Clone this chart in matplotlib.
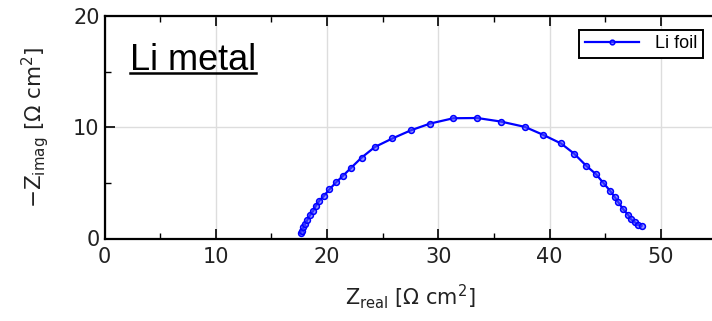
import matplotlib
matplotlib.use("Agg")
import matplotlib.pyplot as plt
from matplotlib.ticker import MultipleLocator, FuncFormatter
from matplotlib.lines import Line2D

z_real = [17.63, 17.72, 17.86, 18.01, 18.22, 18.46, 18.76, 18.97, 19.30, 19.72,
          20.20, 20.80, 21.40, 22.15, 23.11, 24.30, 25.86, 27.54, 29.25, 31.34,
          33.50, 35.62, 37.78, 39.43, 41.02, 42.18, 43.26, 44.16, 44.82, 45.42,
          45.87, 46.17, 46.61, 47.06, 47.28, 47.66, 47.96, 48.25]
z_imag = [0.47, 0.70, 1.00, 1.30, 1.66, 2.08, 2.49, 2.91, 3.39, 3.84,
          4.41, 5.04, 5.61, 6.35, 7.28, 8.23, 8.99, 9.73, 10.33, 10.81,
          10.83, 10.51, 10.03, 9.31, 8.54, 7.64, 6.56, 5.78, 5.00, 4.29,
          3.69, 3.25, 2.62, 2.11, 1.75, 1.45, 1.21, 1.15]
series_label = "Li foil"
panel_title = "Li metal"

W, H = 712, 321
fig = plt.figure(figsize=(W/100, H/100), dpi=100)
left = 104.5 / W
bottom = (H - 238.5) / H
height = (238.5 - 16) / H
width = 60 * 11.13 / W
ax = fig.add_axes([left, bottom, width, height])

ax.plot(z_real, z_imag, '-o', color='blue', lw=1.6, ms=4.2,
        mfc=(0.3, 0.3, 1.0, 0.6), mec='blue', mew=1.1, label=series_label)

ax.set_xlim(0, 60)
ax.set_ylim(0, 20)
ax.xaxis.set_major_locator(MultipleLocator(10))
ax.xaxis.set_minor_locator(MultipleLocator(5))
ax.yaxis.set_major_locator(MultipleLocator(10))
ax.yaxis.set_minor_locator(MultipleLocator(5))
ax.xaxis.set_major_formatter(FuncFormatter(lambda v, p: "" if v > 55 else f"{v:.0f}"))
ax.tick_params(which='both', direction='in', top=True, right=True, colors='black',
               labelsize=15, labelcolor='#222222')
ax.tick_params(which='major', length=7, width=1.2)
ax.tick_params(which='minor', length=4, width=1.0)
ax.tick_params(axis='x', pad=6)
for s in ax.spines.values():
    s.set_linewidth(1.6)
    s.set_color('black')
ax.grid(True, which='major', color='#dddddd', lw=1.0)
ax.set_axisbelow(True)

ax.set_xlabel(r"Z$_{\mathrm{real}}$ [$\Omega$ cm$^2$]", fontsize=15, color='#222222', labelpad=11)
ax.set_ylabel(r"$-$Z$_{\mathrm{imag}}$ [$\Omega$ cm$^2$]", fontsize=15.5, color='#222222', labelpad=16)
ax.xaxis.label.set_position(((410 - 104.5) / (60 * 11.13), 0))

leg = ax.legend(loc='upper right', bbox_to_anchor=(703 / W, (H - 30) / H),
                bbox_transform=fig.transFigure, borderaxespad=0, fancybox=False,
                framealpha=1, edgecolor='black', handlelength=3.0, markerscale=0.8,
                borderpad=0.3, handletextpad=0.9,
                prop={'family': 'Liberation Sans', 'size': 13})
leg.get_frame().set_linewidth(1.4)

base_y = 70.5
t = fig.text(130 / W, (H - base_y) / H, panel_title, fontsize=26,
             family='Liberation Sans', color='black', ha='left', va='baseline')
fig.canvas.draw()
bb = t.get_window_extent()
y_ul = (H - base_y - 2.2) / H
fig.add_artist(Line2D([bb.x0 / W, bb.x1 / W], [y_ul, y_ul],
                      transform=fig.transFigure, color='black', lw=1.8))

fig.savefig("out.png", dpi=100)
